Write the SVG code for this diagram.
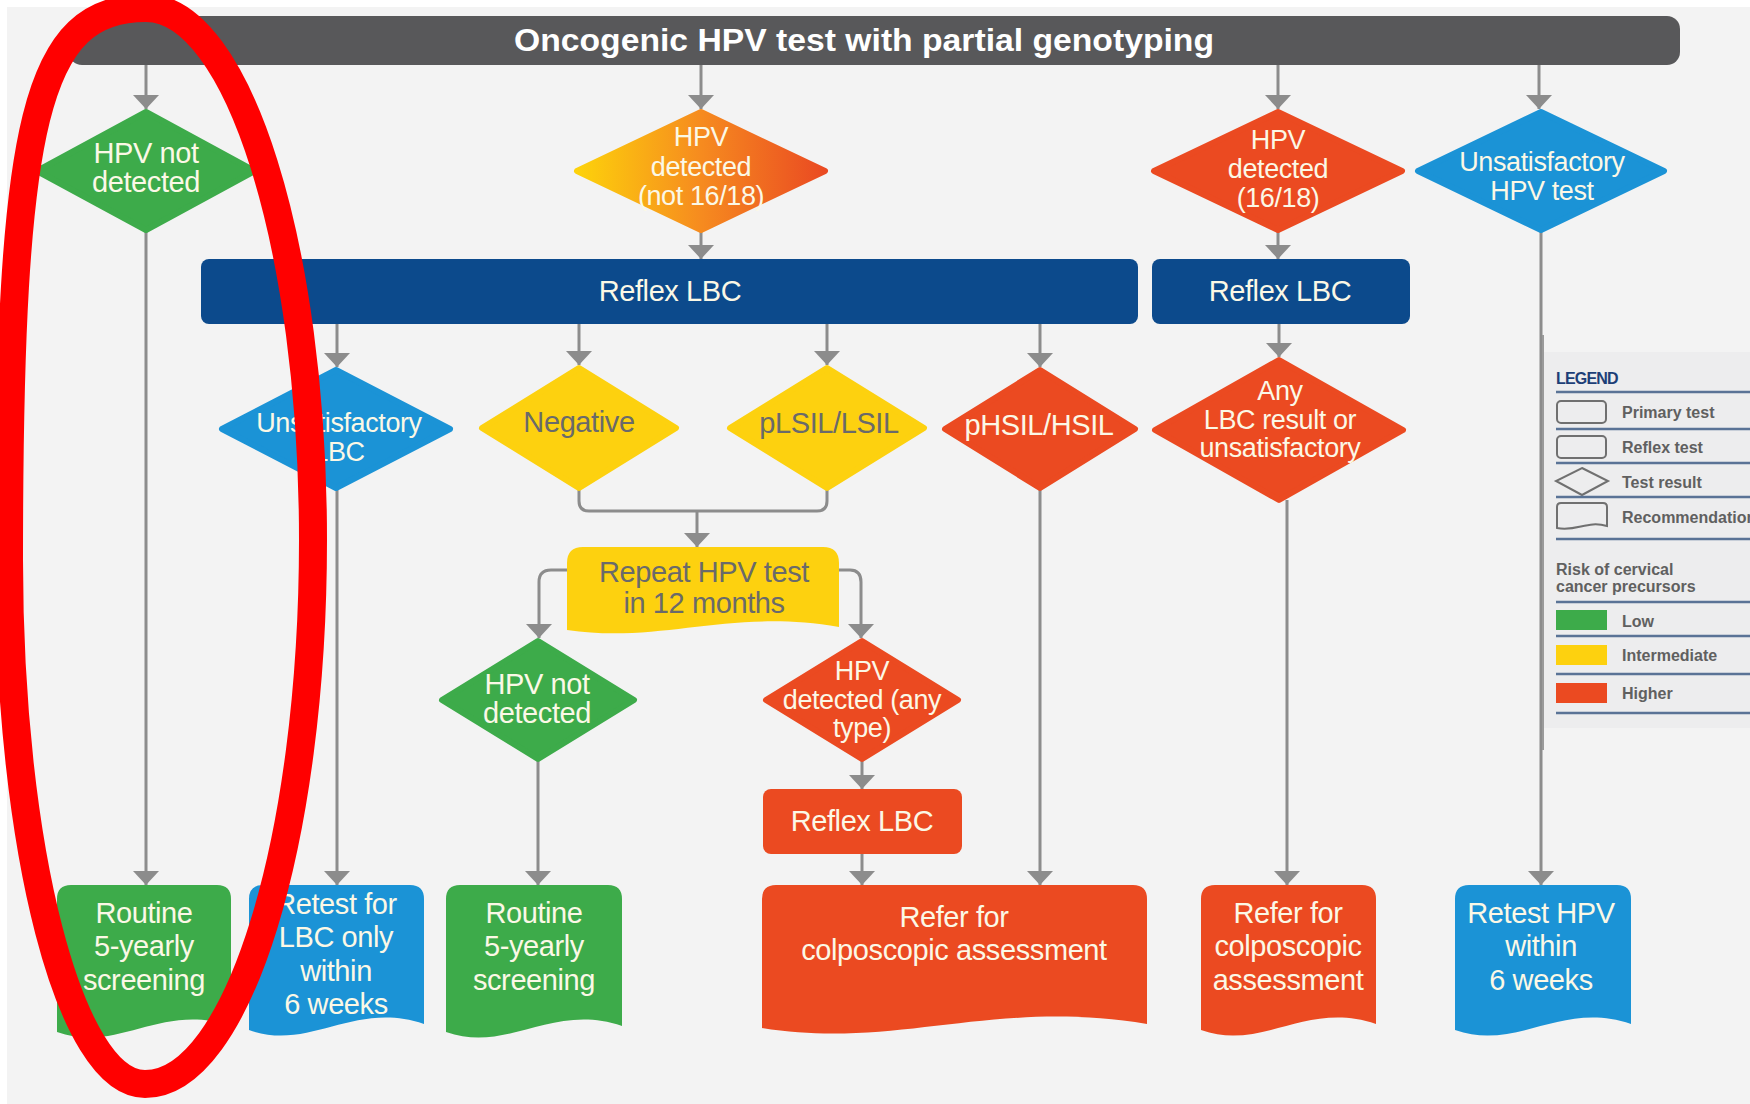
<svg xmlns="http://www.w3.org/2000/svg" width="1750" height="1104" viewBox="0 0 1750 1104">
<defs>
<linearGradient id="gOrange" x1="0" y1="0" x2="1" y2="0">
<stop offset="0" stop-color="#fdd20b"/>
<stop offset="0.5" stop-color="#f68b1f"/>
<stop offset="1" stop-color="#ea4a22"/>
</linearGradient>
<marker id="arr" viewBox="0 0 14 26" refX="14" refY="13" markerWidth="14" markerHeight="26" markerUnits="userSpaceOnUse" orient="auto">
<path d="M0,0 L14,13 L0,26 Z" fill="#8c8c8c"/>
</marker>
<style>
.t{font-family:"Liberation Sans",Arial,sans-serif;font-size:29px;fill:#fbf8e6;text-anchor:middle;letter-spacing:-0.4px}
.ts{font-size:27px}
.ty{font-family:"Liberation Sans",Arial,sans-serif;font-size:29px;fill:#6a6a6a;text-anchor:middle;letter-spacing:-0.4px}
.c{fill:none;stroke:#8c8c8c;stroke-width:3}
.ca{fill:none;stroke:#8c8c8c;stroke-width:3;marker-end:url(#arr)}
.green{fill:#3dab4a;stroke:#3dab4a}
.yellow{fill:#fdd10f;stroke:#fdd10f}
.red{fill:#eb4a21;stroke:#eb4a21}
.blue{fill:#1b93d6;stroke:#1b93d6}
.dia{stroke-width:6;stroke-linejoin:round}
.lg{font-family:"Liberation Sans",Arial,sans-serif;font-size:16px;font-weight:bold;fill:#606060}
.lline{stroke:#5a7396;stroke-width:2.5}
.lshape{fill:none;stroke:#707070;stroke-width:2}
</style>
</defs>
<rect x="0" y="0" width="1750" height="1104" fill="#ffffff"/>
<rect x="7" y="7" width="1743" height="1097" fill="#f3f3f3"/>

<!-- connectors -->
<g id="connectors">
<line class="ca" x1="146" y1="65" x2="146" y2="109"/>
<line class="ca" x1="701" y1="65" x2="701" y2="109"/>
<line class="ca" x1="1278" y1="65" x2="1278" y2="109"/>
<line class="ca" x1="1539" y1="65" x2="1539" y2="109"/>
<line class="ca" x1="701" y1="232" x2="701" y2="259"/>
<line class="ca" x1="1278" y1="232" x2="1278" y2="259"/>
<line class="ca" x1="146" y1="232" x2="146" y2="885"/>
<line class="ca" x1="337" y1="324" x2="337" y2="367"/>
<line class="ca" x1="579" y1="324" x2="579" y2="365"/>
<line class="ca" x1="827" y1="324" x2="827" y2="365"/>
<line class="ca" x1="1040" y1="324" x2="1040" y2="367"/>
<line class="ca" x1="1279" y1="324" x2="1279" y2="357"/>
<line class="ca" x1="337" y1="489" x2="337" y2="885"/>
<path class="c" d="M579 489 V501 Q579 511 589 511 H817 Q827 511 827 501 V489"/>
<line class="ca" x1="697" y1="511" x2="697" y2="547"/>
<path class="ca" d="M567 570 H551 Q539 570 539 582 V638"/>
<path class="ca" d="M839 570 H850 Q861 570 861 582 V638"/>
<line class="ca" x1="538" y1="761" x2="538" y2="885"/>
<line class="ca" x1="862" y1="761" x2="862" y2="789"/>
<line class="ca" x1="862" y1="854" x2="862" y2="885"/>
<line class="ca" x1="1040" y1="489" x2="1040" y2="885"/>
<line class="ca" x1="1287" y1="500" x2="1287" y2="885"/>
<line class="ca" x1="1541" y1="232" x2="1541" y2="885"/>
</g>

<!-- top bar -->
<g id="primary-test">
<rect x="69" y="16" width="1611" height="49" rx="13" fill="#58585a"/>
<text x="864" y="51" font-family="'Liberation Sans',Arial,sans-serif" font-size="31" font-weight="bold" fill="#ffffff" text-anchor="middle" textLength="700" lengthAdjust="spacingAndGlyphs">Oncogenic HPV test with partial genotyping</text>
</g>

<!-- row 1 diamonds -->
<g id="hpv-not-detected-1">
<polygon class="green dia" points="146,112 255,171 146,230 37,171"/>
<text class="t" x="146" y="163">HPV not</text>
<text class="t" x="146" y="192">detected</text>
</g>
<g id="hpv-detected-not1618">
<polygon class="dia" fill="url(#gOrange)" stroke="url(#gOrange)" points="701,112 825,171 701,230 577,171"/>
<text class="t ts" x="701" y="146">HPV</text>
<text class="t ts" x="701" y="176">detected</text>
<text class="t ts" x="701" y="205">(not 16/18)</text>
</g>
<g id="hpv-detected-1618">
<polygon class="red dia" points="1278,112 1402,171 1278,230 1154,171"/>
<text class="t ts" x="1278" y="149">HPV</text>
<text class="t ts" x="1278" y="178">detected</text>
<text class="t ts" x="1278" y="207">(16/18)</text>
</g>
<g id="unsat-hpv">
<polygon class="blue dia" points="1541,112 1664,171 1541,230 1418,171"/>
<text class="t ts" x="1542" y="171" letter-spacing="-1">Unsatisfactory</text>
<text class="t ts" x="1542" y="200">HPV test</text>
</g>

<!-- reflex LBC bars -->
<g id="reflex-lbc-1">
<rect x="201" y="259" width="937" height="65" rx="8" fill="#0c4a8c"/>
<text class="t" x="670" y="301">Reflex LBC</text>
</g>
<g id="reflex-lbc-2">
<rect x="1152" y="259" width="258" height="65" rx="8" fill="#0c4a8c"/>
<text class="t" x="1280" y="301">Reflex LBC</text>
</g>

<!-- row 2 diamonds -->
<g id="unsat-lbc">
<polygon class="blue dia" points="336,370 450,429 336,488 222,429"/>
<text class="t ts" x="339" y="432" letter-spacing="-1">Unsatisfactory</text>
<text class="t ts" x="339" y="461">LBC</text>
</g>
<g id="negative">
<polygon class="yellow dia" points="579,368 676,428 579,488 482,428"/>
<text class="ty" x="579" y="432">Negative</text>
</g>
<g id="plsil">
<polygon class="yellow dia" points="827,368 924,428 827,488 730,428"/>
<text class="ty" x="829" y="433" letter-spacing="-1.2">pLSIL/LSIL</text>
</g>
<g id="phsil">
<polygon class="red dia" points="1040,370 1135,429 1040,488 945,429"/>
<text class="t" x="1039" y="435" letter-spacing="-1.2">pHSIL/HSIL</text>
</g>
<g id="any-lbc">
<polygon class="red dia" points="1279,360 1403,430 1279,500 1155,430"/>
<text class="t ts" x="1280" y="400">Any</text>
<text class="t ts" x="1280" y="429" letter-spacing="-1">LBC result or</text>
<text class="t ts" x="1280" y="457" letter-spacing="-1">unsatisfactory</text>
</g>

<!-- repeat -->
<g id="repeat-hpv">
<path class="yellow" stroke-width="0" d="M567 630 V563 Q567 547 583 547 H823 Q839 547 839 563 V627 C730 608 662 644 567 630 Z"/>
<text class="ty" x="704" y="582">Repeat HPV test</text>
<text class="ty" x="704" y="613">in 12 months</text>
</g>

<!-- row 3 diamonds -->
<g id="hpv-not-detected-2">
<polygon class="green dia" points="538,641 634,700 538,759 442,700"/>
<text class="t" x="537" y="694">HPV not</text>
<text class="t" x="537" y="723">detected</text>
</g>
<g id="hpv-detected-any">
<polygon class="red dia" points="862,641 958,700 862,759 766,700"/>
<text class="t ts" x="862" y="680">HPV</text>
<text class="t ts" x="862" y="709" letter-spacing="-1.2">detected (any</text>
<text class="t ts" x="862" y="737" letter-spacing="-1.2">type)</text>
</g>
<g id="reflex-lbc-3">
<rect x="763" y="789" width="199" height="65" rx="8" fill="#eb4a21"/>
<text class="t" x="862" y="831">Reflex LBC</text>
</g>

<!-- bottom recommendations -->
<g id="routine-1">
<path class="green" stroke-width="0" d="M57 1032 V899 Q57 885 71 885 H217 Q231 885 231 899 V1026 C161 1002 118 1054 57 1032 Z"/>
<text class="t" x="144" y="923">Routine</text>
<text class="t" x="144" y="956">5-yearly</text>
<text class="t" x="144" y="990">screening</text>
</g>
<g id="retest-lbc">
<path class="blue" stroke-width="0" d="M249 1030 V899 Q249 885 263 885 H410 Q424 885 424 899 V1024 C354 1000 310 1052 249 1030 Z"/>
<text class="t" x="336" y="914">Retest for</text>
<text class="t" x="336" y="947">LBC only</text>
<text class="t" x="336" y="981">within</text>
<text class="t" x="336" y="1014">6 weeks</text>
</g>
<g id="routine-2">
<path class="green" stroke-width="0" d="M446 1032 V899 Q446 885 460 885 H608 Q622 885 622 899 V1026 C552 1002 508 1054 446 1032 Z"/>
<text class="t" x="534" y="923">Routine</text>
<text class="t" x="534" y="956">5-yearly</text>
<text class="t" x="534" y="990">screening</text>
</g>
<g id="refer-1">
<path class="red" stroke-width="0" d="M762 1028 V899 Q762 885 776 885 H1133 Q1147 885 1147 899 V1024 C993 998 897 1050 762 1028 Z"/>
<text class="t" x="954" y="927">Refer for</text>
<text class="t" x="954" y="960">colposcopic assessment</text>
</g>
<g id="refer-2">
<path class="red" stroke-width="0" d="M1201 1030 V899 Q1201 885 1215 885 H1362 Q1376 885 1376 899 V1024 C1306 1000 1262 1052 1201 1030 Z"/>
<text class="t" x="1288" y="923">Refer for</text>
<text class="t" x="1288" y="956" letter-spacing="-1">colposcopic</text>
<text class="t" x="1288" y="990" letter-spacing="-1">assessment</text>
</g>
<g id="retest-hpv">
<path class="blue" stroke-width="0" d="M1455 1030 V899 Q1455 885 1469 885 H1617 Q1631 885 1631 899 V1024 C1561 1000 1517 1052 1455 1030 Z"/>
<text class="t" x="1541" y="923">Retest HPV</text>
<text class="t" x="1541" y="956">within</text>
<text class="t" x="1541" y="990">6 weeks</text>
</g>

<!-- legend -->
<g id="legend">
<rect x="1544" y="352" width="206" height="376" fill="#ededee"/>
<line x1="1543" y1="335" x2="1543" y2="750" stroke="#9a9a9a" stroke-width="2"/>
<text x="1556" y="384" font-family="'Liberation Sans',Arial,sans-serif" font-size="16" font-weight="bold" fill="#1d3f77" letter-spacing="-0.8">LEGEND</text>
<line class="lline" x1="1556" y1="392" x2="1750" y2="392"/>
<rect class="lshape" x="1557" y="401" width="49" height="22" rx="4"/>
<text class="lg" x="1622" y="418">Primary test</text>
<line class="lline" x1="1556" y1="429" x2="1750" y2="429"/>
<rect class="lshape" x="1557" y="436" width="49" height="22" rx="4"/>
<text class="lg" x="1622" y="453">Reflex test</text>
<line class="lline" x1="1556" y1="463" x2="1750" y2="463"/>
<polygon class="lshape" points="1582,468 1608,481 1582,495 1556,481"/>
<text class="lg" x="1622" y="488">Test result</text>
<line class="lline" x1="1556" y1="497" x2="1750" y2="497"/>
<path class="lshape" d="M1557 528 V507 Q1557 503 1561 503 H1603 Q1607 503 1607 507 V526 C1587 520 1577 532 1557 528 Z"/>
<text class="lg" x="1622" y="523" font-size="15">Recommendation</text>
<line class="lline" x1="1556" y1="539" x2="1750" y2="539"/>
<text class="lg" x="1556" y="575" font-size="15">Risk of cervical</text>
<text class="lg" x="1556" y="592" font-size="15">cancer precursors</text>
<line class="lline" x1="1556" y1="602" x2="1750" y2="602"/>
<rect x="1556" y="610" width="51" height="20" fill="#3dab4a"/>
<text class="lg" x="1622" y="627">Low</text>
<line class="lline" x1="1556" y1="636" x2="1750" y2="636"/>
<rect x="1556" y="645" width="51" height="20" fill="#fdd10f"/>
<text class="lg" x="1622" y="661">Intermediate</text>
<line class="lline" x1="1556" y1="674" x2="1750" y2="674"/>
<rect x="1556" y="683" width="51" height="20" fill="#eb4a21"/>
<text class="lg" x="1622" y="699">Higher</text>
<line class="lline" x1="1556" y1="713" x2="1750" y2="713"/>
</g>

<!-- red annotation -->
<g id="red-ellipse">
<path d="M146 8 C238 8 313 247 313 540 C313 840 238 1084 145 1084 C70 1084 9 849 9 560 C9 118 36 8 146 8 Z" fill="none" stroke="#ff0000" stroke-width="28"/>
</g>
</svg>
